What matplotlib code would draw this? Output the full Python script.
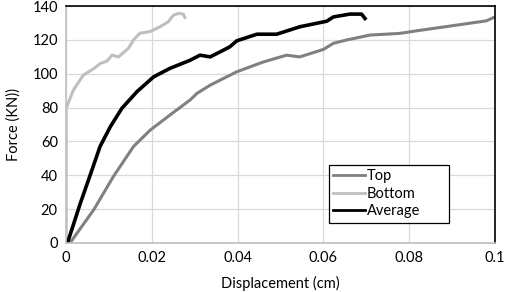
import matplotlib.pyplot as plt

plt.rcParams['font.family'] = ['Lato', 'DejaVu Sans']

# Top
top_x = [0.0009, 0.0064, 0.011, 0.0157, 0.0196, 0.0242, 0.0289, 0.0305, 0.0336, 0.0398,
         0.046, 0.0514, 0.0545, 0.06, 0.0623, 0.0654, 0.0709, 0.0779, 0.0817, 0.0895,
         0.098, 0.1]
top_y = [0, 19.5, 39.2, 57, 66.7, 75.6, 84.5, 88.4, 93.3, 101.2,
         107, 111, 110, 114.4, 118, 120, 122.9, 123.9, 125.4, 128.2,
         131.3, 133.6]

# Bottom
bot_x = [0, 0, 0.0017, 0.004, 0.0064, 0.0079, 0.0095, 0.0107, 0.0122, 0.0145, 0.0157,
         0.0172, 0.0196, 0.0219, 0.0238, 0.025, 0.0262, 0.0273, 0.0277]
bot_y = [0, 79.6, 90.4, 99.2, 103, 106, 107.5, 111, 110, 115, 120,
         124, 125, 127.8, 130.7, 134.6, 135.7, 135.3, 133.3]

# Average
avg_x = [0.0003, 0.0033, 0.006, 0.0079, 0.0103, 0.013, 0.0165, 0.0204, 0.0242, 0.0289,
         0.0312, 0.0336, 0.0367, 0.0382, 0.0398, 0.0445, 0.0491, 0.0545, 0.0608, 0.0623,
         0.0662, 0.0689, 0.0697]
avg_y = [0, 23.4, 43, 57, 68.7, 79.6, 89.4, 98.2, 103.2, 108,
         111, 110, 114, 116, 119.5, 123.4, 123.4, 127.8, 131.1, 133.6,
         135.3, 135.3, 132.7]

fig, ax = plt.subplots(figsize=(5.05, 2.92), dpi=100)
fig.subplots_adjust(left=0.131, right=0.98, top=0.979, bottom=0.168)

ax.plot(top_x, top_y, color='#808080', lw=2.2, label='Top')
ax.plot(bot_x, bot_y, color='#bfbfbf', lw=2.2, label='Bottom')
ax.plot(avg_x, avg_y, color='black', lw=2.6, label='Average')

ax.set_xlim(0, 0.1)
ax.set_ylim(0, 140)
ax.set_xticks([0, 0.02, 0.04, 0.06, 0.08, 0.1])
ax.set_xticklabels(['0', '0.02', '0.04', '0.06', '0.08', '0.1'])
ax.set_yticks(range(0, 141, 20))
ax.grid(True, color='#d9d9d9', lw=0.9)
ax.set_axisbelow(True)
ax.tick_params(length=0, labelsize=10.5, pad=6)

for s in ['left', 'bottom']:
    ax.spines[s].set_color('#bfbfbf')
    ax.spines[s].set_linewidth(1.2)
for s in ['top', 'right']:
    ax.spines[s].set_color('black')
    ax.spines[s].set_linewidth(1.2)

ax.set_xlabel('Displacement (cm)', fontsize=10.5, labelpad=8)
ax.set_ylabel('Force (KN))', fontsize=10.5, labelpad=8)

leg = ax.legend(loc='lower left', bbox_to_anchor=(0.596, 0.055, 0.313, 0.256), mode='expand',
                fontsize=10.5, fancybox=False, edgecolor='black', framealpha=1,
                handlelength=2.2, handletextpad=0.1, borderpad=0.3, labelspacing=0.25)
leg.get_frame().set_linewidth(0.9)
for h in leg.get_lines():
    h.set_linewidth(2)

fig.savefig('out.png', dpi=100)
